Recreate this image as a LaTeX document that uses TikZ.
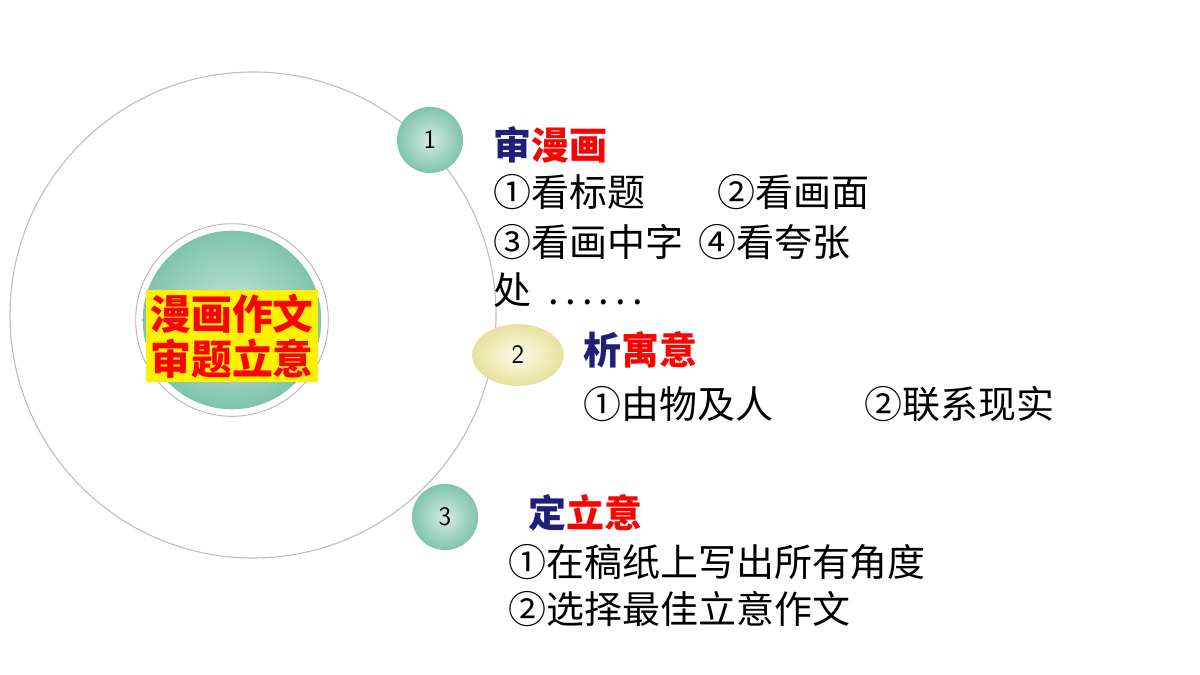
\documentclass[tikz,border=0pt]{standalone}
\usepackage{fontspec}
\newfontfamily\cjk{Noto Sans CJK SC}
\usetikzlibrary{positioning,shapes.geometric}
\definecolor{teal1}{HTML}{A8D8C6}
\definecolor{teal2}{HTML}{7FC4AC}
\definecolor{cream}{HTML}{F2EDB0}
\definecolor{navy}{HTML}{1F1F7A}
\tikzset{
  ball/.style={circle, minimum size=47pt, inner sep=0, font=\fontsize{19}{19}\selectfont\sffamily,
    shading=radial, inner color=teal1!50, outer color=teal2},
  line/.style={anchor=west, inner sep=0, font=\cjk\fontsize{27}{27}\selectfont},
  head/.style={line, font=\cjk\bfseries\fontsize{27}{27}\selectfont},
}
\begin{document}
\begin{tikzpicture}[x=0.025cm, y=-0.025cm]
  \useasboundingbox (0,0) rectangle (1200,675);
  \fill[white] (0,0) rectangle (1200,675);
  % orbit
  \draw[gray!50, line width=0.8pt] (253,315) circle [radius=243];
  % centre
  \node[circle, minimum size=137pt, inner sep=0, draw=gray!60, line width=0.6pt, fill=white] (ring) at (232,320) {};
  \node[circle, minimum size=127pt, inner sep=0, shading=radial, inner color=teal1!60, outer color=teal2] (core) at (232,320) {};
  \node[align=center, inner sep=0, font=\cjk\bfseries\fontsize{29}{36}\selectfont, text=red] (title) at (232,336)
    {\colorbox{yellow}{漫画作文}\\[-4pt]\colorbox{yellow}{审题立意}};
  % balls
  \node[ball] (b1) at (430,140) {1};
  \node[ball, ellipse, minimum width=65pt, minimum height=44pt, inner color=cream!30, outer color=cream!90!olive] (b2) at (518,355) {2};
  \node[ball] (b3) at (445,517) {3};
  % texts
  \node[head] (h1) at (493,145) {\textcolor{navy}{审}\textcolor{red}{漫画}};
  \node[line] (l11) at (493,192) {①看标题\hspace{1.9em}②看画面};
  \node[line] (l12) at (493,242) {③看画中字\hspace{0.4em}④看夸张};
  \node[line] (l13) at (493,290) {处 \ .\,.\,.\,.\,.\,.};
  \node[head] (h2) at (583,350) {\textcolor{navy}{析}\textcolor{red}{寓意}};
  \node[line] (l21) at (583,404) {①由物及人\hspace{2.4em}②联系现实};
  \node[head] (h3) at (528,513) {\textcolor{navy}{定}\textcolor{red}{立意}};
  \node[line] (l31) at (508,562) {①在稿纸上写出所有角度};
  \node[line] (l32) at (508,609) {②选择最佳立意作文};
\end{tikzpicture}
\end{document}
